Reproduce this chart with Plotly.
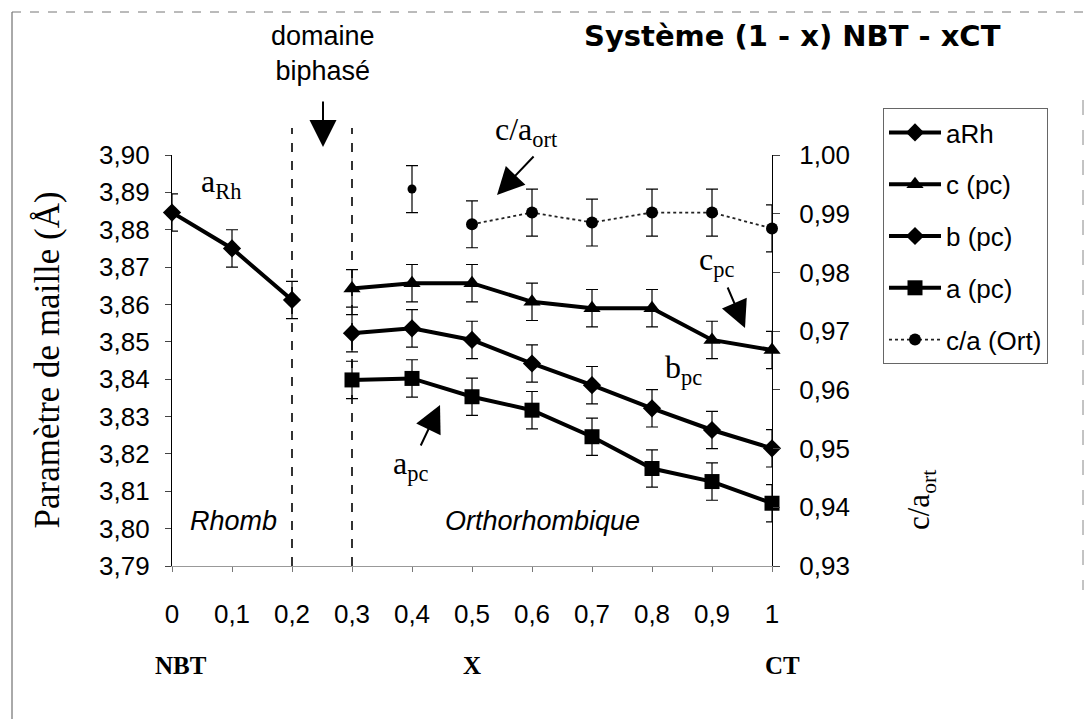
import plotly.graph_objects as go

# ---------------- data ----------------
x_rh = [0.0, 0.1, 0.2]
a_rh = [3.8846, 3.8750, 3.8612]

x_ort = [0.3, 0.4, 0.5, 0.6, 0.7, 0.8, 0.9, 1.0]
c_pc = [3.8643, 3.8657, 3.8657, 3.8607, 3.8590, 3.8590, 3.8505, 3.8478]
b_pc = [3.8523, 3.8536, 3.8505, 3.8442, 3.8384, 3.8322, 3.8264, 3.8215]
a_pc = [3.8398, 3.8402, 3.8353, 3.8317, 3.8246, 3.8161, 3.8126, 3.8068]

x_ca = [0.5, 0.6, 0.7, 0.8, 0.9, 1.0]
ca_ort = [0.9882, 0.9902, 0.9885, 0.9902, 0.9902, 0.9875]
x_ca_iso = [0.4]
ca_iso = [0.9942]

err_cell = 0.005
err_ca = 0.004

x_ticks = [0, 0.1, 0.2, 0.3, 0.4, 0.5, 0.6, 0.7, 0.8, 0.9, 1.0]
x_ticktext = ["0", "0,1", "0,2", "0,3", "0,4", "0,5", "0,6", "0,7", "0,8", "0,9", "1"]
yl_ticks = [3.79, 3.80, 3.81, 3.82, 3.83, 3.84, 3.85, 3.86, 3.87, 3.88, 3.89, 3.90]
yl_ticktext = ["3,79", "3,80", "3,81", "3,82", "3,83", "3,84", "3,85", "3,86", "3,87", "3,88", "3,89", "3,90"]
yr_ticks = [0.93, 0.94, 0.95, 0.96, 0.97, 0.98, 0.99, 1.00]
yr_ticktext = ["0,93", "0,94", "0,95", "0,96", "0,97", "0,98", "0,99", "1,00"]

SANS = "Liberation Sans, Arial, sans-serif"
SERIF = "Liberation Serif, Times New Roman, serif"

fig = go.Figure()

def eb(v):
    return dict(type="constant", value=v, thickness=1.2, width=6, color="black")

fig.add_trace(go.Scatter(
    x=x_rh, y=a_rh, name="aRh", mode="lines+markers",
    line=dict(color="black", width=4),
    marker=dict(symbol="diamond", size=14, color="black"),
    error_y=eb(err_cell), cliponaxis=False, legendgroup="g1"))
fig.add_trace(go.Scatter(
    x=x_ort, y=c_pc, name="c (pc)", mode="lines+markers",
    line=dict(color="black", width=4),
    marker=dict(symbol="triangle-up", size=15, color="black"),
    error_y=eb(err_cell), cliponaxis=False, legendgroup="g2"))
fig.add_trace(go.Scatter(
    x=x_ort, y=b_pc, name="b (pc)", mode="lines+markers",
    line=dict(color="black", width=4),
    marker=dict(symbol="diamond", size=14, color="black"),
    error_y=eb(err_cell), cliponaxis=False, legendgroup="g3"))
fig.add_trace(go.Scatter(
    x=x_ort, y=a_pc, name="a (pc)", mode="lines+markers",
    line=dict(color="black", width=4),
    marker=dict(symbol="square", size=15, color="black"),
    error_y=eb(err_cell), cliponaxis=False, legendgroup="g4"))
fig.add_trace(go.Scatter(
    x=x_ca, y=ca_ort, name="c/a (Ort)", mode="lines+markers", yaxis="y2",
    line=dict(color="#222", width=1.8, dash="dot"),
    marker=dict(symbol="circle", size=12, color="black"),
    error_y=eb(err_ca), cliponaxis=False, legendgroup="g5"))
fig.add_trace(go.Scatter(
    x=x_ca_iso, y=ca_iso, name="c/a (Ort) x=0,4", mode="markers", yaxis="y2",
    marker=dict(symbol="circle", size=9, color="black"),
    error_y=eb(err_ca), cliponaxis=False, showlegend=False))

PL, PR, PT, PB = 172, 315, 155, 153
W, H = 1087, 719
pw, ph = W - PL - PR, H - PT - PB

def px(xpix):
    return (xpix - PL) / pw

def py(ypix):
    return (H - PB - ypix) / ph

def txt(text, x, y, size, family=SERIF, ref="data", angle=0):
    d = dict(text=text, x=x, y=y, showarrow=False, xanchor="center", yanchor="middle",
             textangle=angle, font=dict(family=family, size=size, color="black"))
    if ref == "data":
        d.update(xref="x", yref="y")
    else:
        d.update(xref="paper", yref="paper")
    return d

def arrow(x, y, ax, ay, ref="data"):
    d = dict(text="", x=x, y=y, ax=ax, ay=ay, showarrow=True, arrowhead=2,
             arrowsize=2.7, arrowwidth=2, arrowcolor="black")
    if ref == "data":
        d.update(xref="x", yref="y")
    else:
        d.update(xref="paper", yref="paper")
    return d

annotations = [
    txt("<b>Système (1 - x) NBT - xCT</b>", px(792), py(36), 29,
        family="DejaVu Sans, Liberation Sans, sans-serif", ref="paper"),
    txt("domaine<br>biphasé", px(323), py(54), 27, family=SANS, ref="paper"),
    arrow(px(323), py(147), 0, -47, ref="paper"),
    txt("a<sub>Rh</sub>", 0.0817, 3.8925, 32),
    txt("c/a<sub>ort</sub>", px(526), py(132), 32, ref="paper"),
    arrow(0.5417, 3.8893, 38, -40),
    txt("c<sub>pc</sub>", 0.9067, 3.8714, 32),
    arrow(0.955, 3.8537, -18, -42),
    txt("b<sub>pc</sub>", 0.8517, 3.8425, 32),
    txt("a<sub>pc</sub>", 0.3967, 3.8170, 32),
    arrow(0.4467, 3.8331, -20, 42),
    txt("<i>Rhomb</i>", 0.1017, 3.802, 27, family=SANS),
    txt("<i>Orthorhombique</i>", 0.6167, 3.802, 27, family=SANS),
    txt("<b>NBT</b>", px(181), py(665), 25, ref="paper"),
    txt("<b>X</b>", px(472), py(665), 25, ref="paper"),
    txt("<b>CT</b>", px(782), py(665), 25, ref="paper"),
    txt("Paramètre de maille (Å)", px(47), 0.5, 35, ref="paper", angle=-90),
    txt("c/a<sub>ort</sub>", px(921), py(500), 31, ref="paper", angle=-90),
]

shapes = [
    dict(type="line", xref="x", yref="paper", x0=0.2, x1=0.2, y0=0, y1=py(128),
         line=dict(color="black", width=1.6, dash="dash")),
    dict(type="line", xref="x", yref="paper", x0=0.3, x1=0.3, y0=0, y1=py(128),
         line=dict(color="black", width=1.6, dash="dash")),
    # scanned page border
    dict(type="line", xref="paper", yref="paper", x0=px(12), x1=px(12), y0=py(12), y1=py(719),
         line=dict(color="#555", width=1)),
    dict(type="line", xref="paper", yref="paper", x0=px(12), x1=px(1083), y0=py(12), y1=py(12),
         line=dict(color="#777", width=1, dash="dash")),
    dict(type="line", xref="paper", yref="paper", x0=px(1083), x1=px(1083), y0=py(100), y1=py(590),
         line=dict(color="#888", width=1, dash="longdash")),
]

fig.update_layout(
    width=W, height=H,
    margin=dict(l=PL, r=PR, t=PT, b=PB),
    paper_bgcolor="white", plot_bgcolor="white",
    font=dict(family=SANS, color="black"),
    xaxis=dict(range=[0, 1], tickvals=x_ticks, ticktext=x_ticktext,
               showline=True, linecolor="#999", linewidth=1, ticks="outside", ticklen=5,
               tickcolor="#777", showgrid=False, zeroline=False,
               tickfont=dict(family=SANS, size=26), ticklabelstandoff=20),
    yaxis=dict(range=[3.79, 3.90], tickvals=yl_ticks, ticktext=yl_ticktext,
               showline=True, linecolor="black", linewidth=1.2, ticks="outside", ticklen=6,
               showgrid=False, zeroline=False,
               tickfont=dict(family=SANS, size=26), ticklabelstandoff=10),
    yaxis2=dict(range=[0.93, 1.00], tickvals=yr_ticks, ticktext=yr_ticktext,
                overlaying="y", side="right", anchor="x",
                showline=True, linecolor="black", linewidth=1.2, ticks="outside", ticklen=7,
                showgrid=False, zeroline=False,
                tickfont=dict(family=SANS, size=26), ticklabelstandoff=14),
    legend=dict(x=px(883), y=py(108), xanchor="left", yanchor="top",
                bordercolor="#666", borderwidth=1, bgcolor="white",
                font=dict(family=SANS, size=26), traceorder="grouped",
                tracegroupgap=15, itemwidth=52),
    annotations=annotations,
    shapes=shapes,
    showlegend=True,
)

fig.write_html("out.html", config={"displayModeBar": False},
               post_script="document.body.style.margin='0';")
